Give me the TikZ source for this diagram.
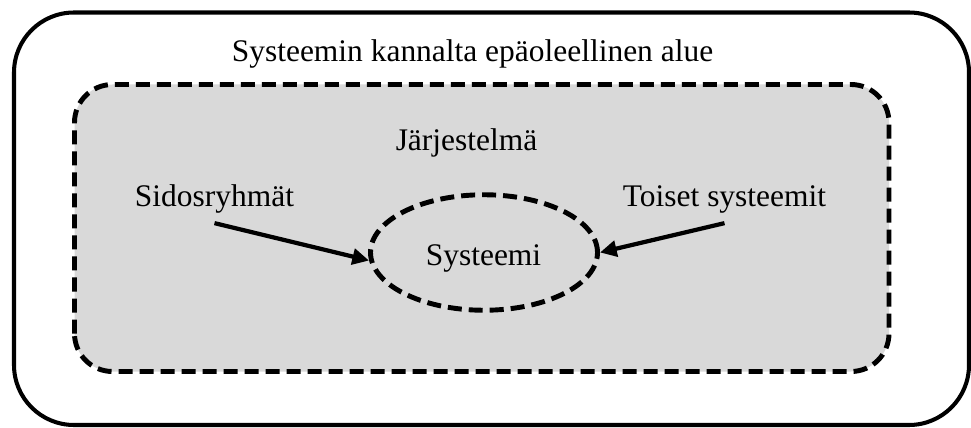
\documentclass[tikz,border=0pt]{standalone}
\usepackage{fontspec}
\setmainfont{Liberation Serif}
\usepackage{xcolor}
\usepackage{tikz}
\usetikzlibrary{arrows.meta}
\usetikzlibrary{shapes.geometric}
\usetikzlibrary{positioning}

\definecolor{alue}{HTML}{D9D9D9}

\begin{document}
\begin{tikzpicture}[line join=round]
 	  \tikzstyle{lbl}=[inner sep=0pt, anchor=base, font=\fontsize{17.9}{21.5}\selectfont]
 	  \tikzstyle{katko}=[line width=2.8pt, dash pattern=on 0.28cm off 0.14cm]
 	  \tikzstyle{nuoli}=[line width=2.4pt, -{Triangle[length=9.5pt,width=9pt]}]
\useasboundingbox (0,0) rectangle (19.42,8.54);
% ulompi alue
\draw[line width=2.3pt, rounded corners=1.2cm] (0.28,0.04) rectangle (19.38,8.29);
\node[lbl] (alue) at (9.45,7.30) {Systeemin kannalta epäoleellinen alue};
% jarjestelma
\draw[katko, fill=alue, rounded corners=0.76cm] (1.49,1.11) rectangle (17.78,6.85);
\node[lbl] (jarj) at (9.33,5.53) {Järjestelmä};
% systeemi
\node[draw, katko, ellipse, minimum width=4.54cm, minimum height=2.31cm, inner sep=0pt] (sys) at (9.68,3.49) {};
\node[lbl] (systxt) at (9.67,3.22) {Systeemi};
\node[lbl] (sidos) at (4.29,4.40) {Sidosryhmät};
\node[lbl] (toiset) at (14.49,4.40) {Toiset systeemit};
\coordinate[below=0.18cm of sidos.south] (sidos_a);
\coordinate[below=0.18cm of toiset.south] (toiset_a);
\draw[nuoli] (sidos_a) -- (sys.184);
\draw[nuoli] (toiset_a) -- (sys.east);
   \end{tikzpicture}
\end{document}
